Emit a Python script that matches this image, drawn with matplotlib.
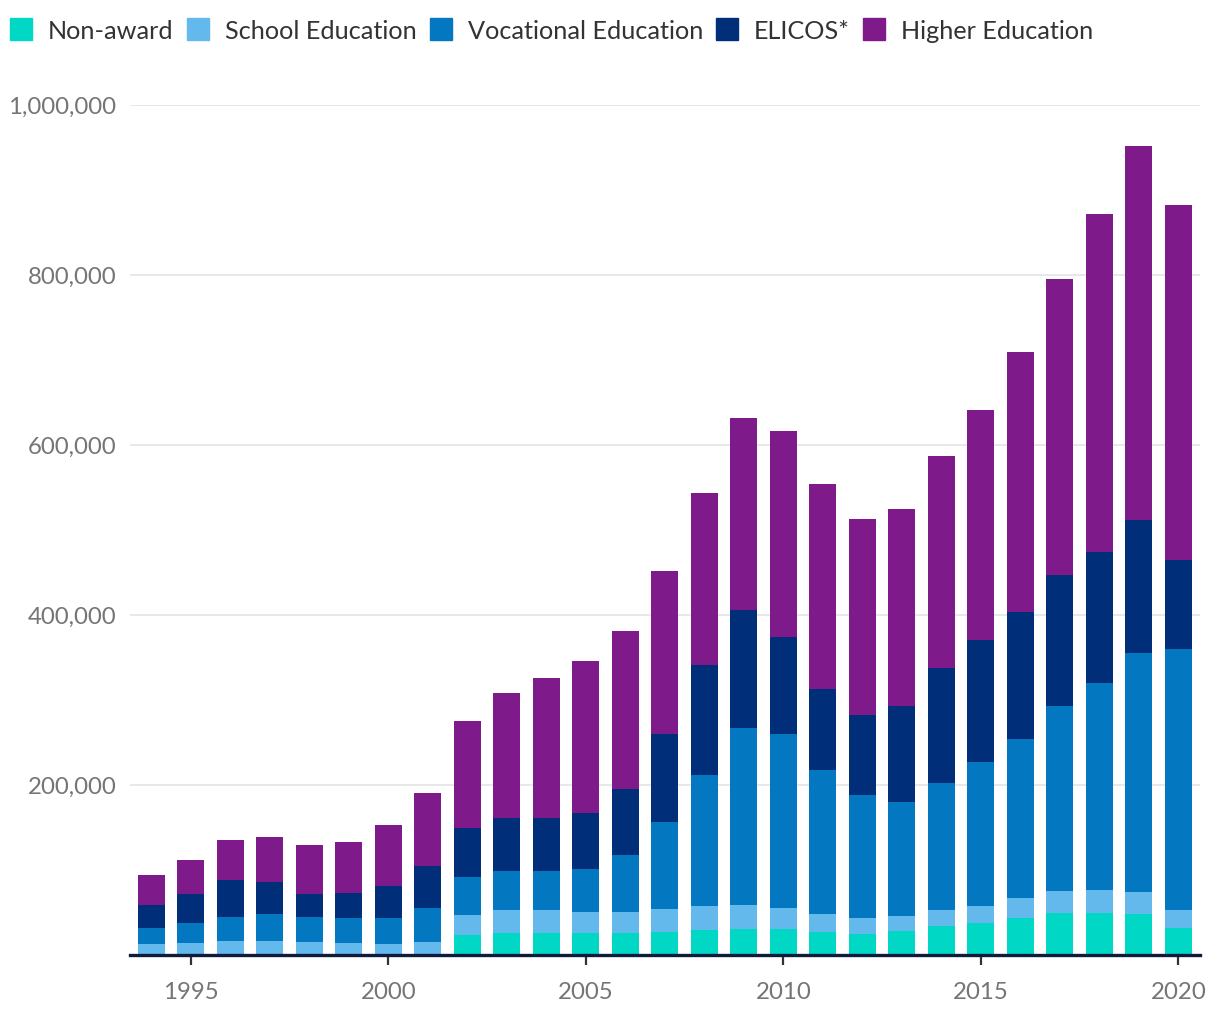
import numpy as np
import matplotlib.pyplot as plt
from matplotlib.lines import Line2D
from matplotlib.ticker import FuncFormatter

plt.rcParams['font.family'] = ['Lato', 'DejaVu Sans']

# Enrolments by sector, 1994-2020 (thousands)
years = list(range(1994, 2021))
non_award = [0, 0, 0, 0, 0, 0, 0, 0,
             23.2, 25.5, 25.5, 25.5, 25.5, 26.7, 29.1, 30.2, 30.2,
             26.7, 24.4, 27.9, 33.8, 37.3, 43.2, 49.1, 49.1, 47.9, 31.4]
school = [12.6, 13.8, 16.1, 16.1, 14.9, 13.8, 12.6, 14.9,
          23.5, 27.1, 27.1, 24.7, 24.7, 27.1, 28.2, 28.3, 24.7,
          21.2, 18.8, 17.6, 18.8, 20.0, 23.5, 25.8, 27.0, 25.9, 21.2]
vocational = [18.8, 23.5, 28.3, 31.8, 29.5, 29.4, 30.6, 40.0,
              44.7, 45.9, 45.9, 50.6, 67.1, 102.3, 154.1, 208.2, 204.8,
              169.4, 144.7, 134.2, 149.4, 169.4, 187.1, 217.7, 243.6, 281.2, 307.1]
elicos = [27.1, 34.1, 43.5, 37.6, 27.0, 29.4, 37.6, 49.5,
          57.7, 62.3, 62.3, 65.9, 77.6, 103.6, 129.4, 138.8, 114.1,
          95.3, 94.1, 112.9, 135.3, 143.5, 149.4, 154.1, 154.1, 156.4, 104.7]
higher = [35.3, 40.0, 47.0, 53.0, 57.7, 60.0, 71.8, 85.8,
          125.9, 147.1, 164.7, 178.8, 185.9, 191.7, 202.4, 225.9, 242.3,
          241.2, 230.6, 231.8, 249.4, 270.6, 305.9, 348.3, 397.6, 440.0, 417.6]

labels = ['Non-award', 'School Education', 'Vocational Education', 'ELICOS*', 'Higher Education']
colors = ['#00d7c4', '#63b8ec', '#0378c1', '#002e79', '#7f1a8b']
series = [non_award, school, vocational, elicos, higher]

fig = plt.figure(figsize=(12.2, 10.2), dpi=100)
ax = fig.add_axes([0.1066, 0.063, 0.877, 0.8334])

x = np.array(years)
bottom = np.zeros(len(years))
for vals, col in zip(series, colors):
    v = np.array(vals) * 1000
    ax.bar(x, v, width=0.68, bottom=bottom, color=col, linewidth=0, zorder=2)
    bottom += v

ax.set_xlim(1993.46, 2020.55)
ax.set_ylim(0, 1000000)
ax.set_yticks([200000, 400000, 600000, 800000, 1000000])
ax.yaxis.set_major_formatter(FuncFormatter(lambda v, p: f'{int(v):,}'))
ax.set_xticks([1995, 2000, 2005, 2010, 2015, 2020])

ax.grid(axis='y', color='#e6e6e6', linewidth=1.3, zorder=0)
ax.set_axisbelow(True)
for s in ['top', 'right', 'left']:
    ax.spines[s].set_visible(False)
ax.spines['bottom'].set_color('#0f1b3d')
ax.spines['bottom'].set_linewidth(2.4)
ax.spines['bottom'].set_zorder(3)

ax.tick_params(axis='y', length=0, pad=10, labelsize=17.3, labelcolor='#757575')
ax.tick_params(axis='x', length=7, width=1.6, color='#333333', pad=12,
               labelsize=17.3, labelcolor='#757575')

handles = [Line2D([0], [0], marker='s', linestyle='none', markersize=16,
                  markerfacecolor=c, markeredgecolor=c) for c in colors]
fig.legend(handles, labels, loc='center left', bbox_to_anchor=(0.0069, 0.969),
           ncol=5, frameon=False, fontsize=18.2, labelcolor='#333333',
           handlelength=1.0, handletextpad=0.57, columnspacing=0.45,
           borderpad=0, borderaxespad=0)

fig.savefig('out.png', dpi=100)
